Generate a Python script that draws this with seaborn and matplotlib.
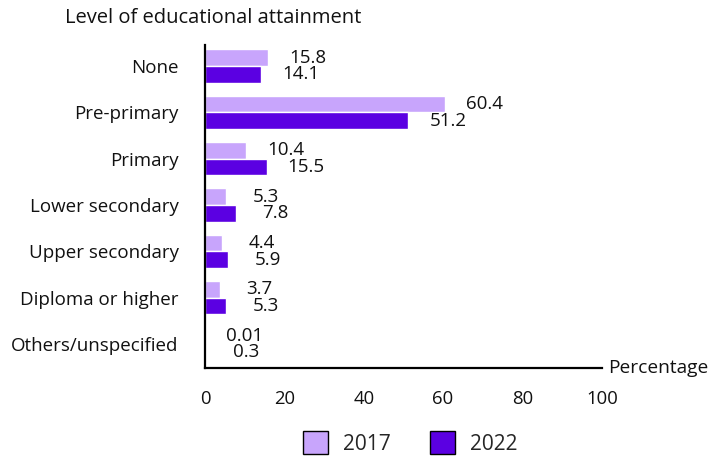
import matplotlib
matplotlib.use("Agg")
import matplotlib.pyplot as plt
import seaborn as sns
import pandas as pd
from matplotlib.patches import Patch

categories = ["None", "Pre-primary", "Primary", "Lower secondary",
              "Upper secondary", "Diploma or higher", "Others/unspecified"]
years = ["2017", "2022"]
values_2017 = [15.8, 60.4, 10.4, 5.3, 4.4, 3.7, 0.01]
values_2022 = [14.1, 51.2, 15.5, 7.8, 5.9, 5.3, 0.3]
label_2017 = ["15.8", "60.4", "10.4", "5.3", "4.4", "3.7", "0.01"]
label_2022 = ["14.1", "51.2", "15.5", "7.8", "5.9", "5.3", "0.3"]
x_ticks = [0, 20, 40, 60, 80, 100]

colors = {"2017": "#C8A5FC", "2022": "#5B00E2"}

sns.set_style("white")
plt.rcParams["font.family"] = ["Open Sans", "DejaVu Sans"]
plt.rcParams["font.weight"] = "medium"

df = pd.DataFrame({
    "category": categories * 2,
    "year": ["2017"] * len(categories) + ["2022"] * len(categories),
    "value": values_2017 + values_2022,
})

fig = plt.figure(figsize=(7.26, 4.62), dpi=100)
ax = fig.add_axes([0.2824, 0.2035, 0.829 - 0.2824, 0.9026 - 0.2035])

sns.barplot(data=df, y="category", x="value", hue="year", order=categories,
            hue_order=years, palette=colors, orient="h", width=0.72,
            ax=ax, legend=False, saturation=1)

bw = 0.36
for i, cat in enumerate(categories):
    for j, (vals, labs) in enumerate([(values_2017, label_2017), (values_2022, label_2022)]):
        yc = i + (j - 0.5) * bw
        ax.text(vals[i] + 10, yc, labs[i], ha="center", va="center",
                fontsize=13.5, color="#111111")

ax.set_xlim(0, 100)
ax.set_ylim(6.52, -0.45)
ax.set_xticks(x_ticks)
ax.set_xticklabels([str(t) for t in x_ticks], fontsize=13.3)
ax.tick_params(axis="x", length=0, pad=16, colors="#111111")
ax.tick_params(axis="y", length=0, pad=19, labelsize=13.5, colors="#111111")
ax.set_xlabel("")
ax.set_ylabel("")
for s in ["top", "right"]:
    ax.spines[s].set_visible(False)
for s in ["left", "bottom"]:
    ax.spines[s].set_color("black")
    ax.spines[s].set_linewidth(1.6)

fig.text(65 / 726, 1 - 18 / 462, "Level of educational attainment",
         ha="left", va="center", fontsize=14.5, color="#111111")
ax.text(101.5, 6.52, "Percentage", ha="left", va="center", fontsize=13.8,
        color="#111111", transform=ax.transData, clip_on=False)

handles = [Patch(facecolor=colors[y], edgecolor="black", linewidth=1.0, label=y)
           for y in years]
fig.legend(handles=handles, loc="center", bbox_to_anchor=(0.565, 1 - 443 / 462),
           ncol=2, frameon=False, fontsize=15, handlelength=1.2, handleheight=1.25,
           columnspacing=1.9, handletextpad=0.7)

fig.savefig("out.png", dpi=100)
